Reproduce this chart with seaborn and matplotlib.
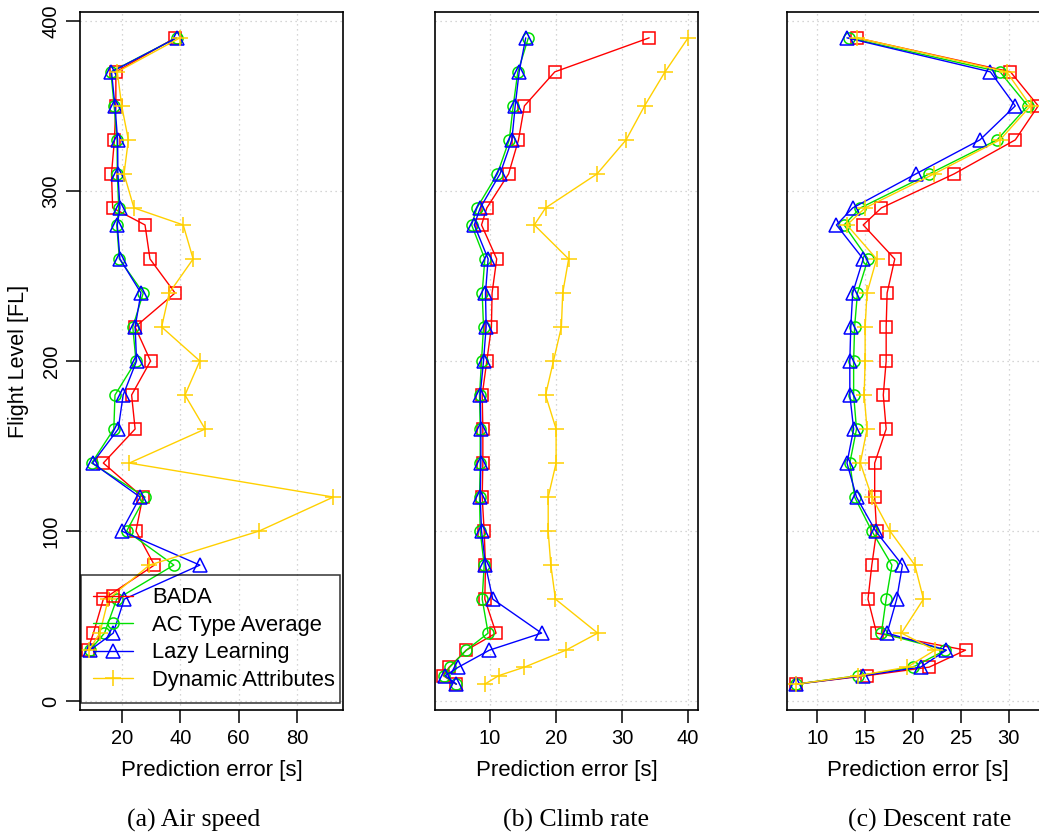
import numpy as np
import pandas as pd
import matplotlib
matplotlib.use("Agg")
import matplotlib.pyplot as plt
import seaborn as sns

# flight levels
levels_a = [390, 370, 350, 330, 310, 290, 280, 260, 240, 220, 200, 180,
            160, 140, 120, 100, 80, 60, 40, 30]
levels_bc = levels_a + [20, 15, 10]

methods = ["BADA", "AC Type Average", "Lazy Learning", "Dynamic Attributes"]

# (a) air speed
air_bada = [38.2, 17.9, 17.9, 17.4, 16.4, 16.8, 27.9, 29.6, 38.2, 24.5, 29.8, 23.3,
            24.5, 13.6, 27.1, 24.8, 31.1, 13.6, 10.2, 8.2]
air_avg = [38.7, 16.2, 17.3, 18.3, 18.4, 18.9, 18.2, 19.1, 27.3, 23.7, 24.8, 17.6,
           17.2, 9.6, 27.9, 21.6, 37.8, 18.2, 14.0, 9.0]
air_lazy = [38.7, 16.4, 17.6, 18.5, 18.6, 19.3, 18.4, 19.3, 26.5, 24.5, 25.0, 20.4,
            18.7, 9.9, 26.2, 19.9, 46.7, 20.8, 17.0, 9.0]
air_dyn = [39.9, 18.4, 19.9, 22.2, 20.7, 24.1, 41.0, 44.4, 36.2, 33.6, 46.7, 41.6,
           48.5, 22.5, 92.5, 67.0, 29.4, 15.3, 12.4, 8.7]

# (b) climb rate
climb_bada = [34.1, 19.8, 15.2, 14.3, 12.8, 9.5, 8.7, 11.0, 10.3, 10.2, 9.5, 8.8,
              8.9, 8.9, 8.8, 9.1, 9.3, 9.2, 10.9, 6.4, 3.8, 2.9, 4.8]
climb_avg = [15.8, 14.2, 13.5, 12.9, 11.1, 8.0, 7.2, 9.2, 8.8, 9.0, 8.7, 8.4,
             8.5, 8.5, 8.4, 8.5, 9.1, 8.8, 9.7, 6.4, 3.9, 3.0, 4.9]
climb_lazy = [15.4, 14.4, 13.8, 13.3, 11.5, 8.5, 7.6, 9.7, 9.3, 9.4, 9.0, 8.5,
              8.6, 8.6, 8.5, 8.7, 9.3, 10.4, 17.8, 9.9, 5.2, 3.2, 4.9]
climb_dyn = [40.0, 36.5, 33.4, 30.6, 26.2, 18.4, 16.7, 21.9, 21.0, 20.8, 19.6, 18.4,
             20.0, 20.0, 18.8, 18.8, 19.2, 19.9, 26.3, 21.5, 15.2, 11.3, 9.2]

# (c) descent rate
desc_bada = [14.1, 30.2, 33.1, 30.7, 24.3, 16.7, 14.8, 18.1, 17.3, 17.2, 17.2, 16.9,
             17.2, 16.0, 16.0, 16.2, 15.7, 15.3, 16.2, 25.5, 21.7, 15.2, 7.8]
desc_avg = [13.3, 29.1, 32.0, 28.8, 21.7, 14.5, 12.8, 15.3, 14.2, 13.9, 13.8, 13.8,
            14.1, 13.4, 13.9, 15.7, 17.8, 17.2, 16.7, 23.4, 20.0, 14.3, 7.8]
desc_lazy = [13.1, 28.1, 30.7, 27.0, 20.3, 13.7, 12.0, 14.8, 13.7, 13.5, 13.4, 13.4,
             13.8, 13.1, 14.1, 16.1, 18.9, 18.3, 17.3, 23.5, 20.8, 14.8, 7.8]
desc_dyn = [14.2, 29.8, 32.3, 29.1, 22.2, 15.0, 13.1, 16.2, 15.2, 15.0, 15.0, 14.9,
            15.2, 14.5, 15.7, 17.6, 20.2, 21.1, 18.8, 22.3, 19.4, 14.3, 7.8]

colors = ["#ff0000", "#00e000", "#0000ff", "#ffd000"]
markers = ["s", "o", "^", "+"]
msizes = [8.5, 8, 9.5, 11]


def long_table(levels, series):
    frames = []
    for name, vals in zip(methods, series):
        frames.append(pd.DataFrame({"level": levels, "error": vals, "method": name}))
    return pd.concat(frames, ignore_index=True)


sns.set_style("white")
plt.rcParams["font.family"] = ["Liberation Sans", "DejaVu Sans"]
plt.rcParams.update({"text.color": "black", "axes.labelcolor": "black",
                     "xtick.color": "black", "ytick.color": "black"})

fig = plt.figure(figsize=(10.39, 8.32), dpi=100)
W, H = 1039, 832


def make_ax(left):
    return fig.add_axes([left / W, 1 - 710 / H, 263 / W, 698 / H])


panels = [
    (make_ax(80), long_table(levels_a, [air_bada, air_avg, air_lazy, air_dyn]),
     (5.6, 95.8), [20, 40, 60, 80], "(a) Air speed", 194),
    (make_ax(435), long_table(levels_bc, [climb_bada, climb_avg, climb_lazy, climb_dyn]),
     (1.65, 41.5), [10, 20, 30, 40], "(b) Climb rate", 576),
    (make_ax(786.7), long_table(levels_bc, [desc_bada, desc_avg, desc_lazy, desc_dyn]),
     (6.8, 34.3), [10, 15, 20, 25, 30], "(c) Descent rate", 930),
]

for i, (ax, df, xlim, xticks, caption, cx) in enumerate(panels):
    for name, col, mk, ms in zip(methods, colors, markers, msizes):
        sns.lineplot(data=df[df["method"] == name], x="error", y="level",
                     ax=ax, color=col, marker=mk, markersize=ms,
                     markerfacecolor="none", markeredgecolor=col,
                     markeredgewidth=1.1, linewidth=1.0, sort=False,
                     orient="y", estimator=None, errorbar=None, label=name,
                     legend=False)
    ax.set_xlim(*xlim)
    ax.set_ylim(-5.2, 405.2)
    ax.set_xticks(xticks)
    ax.set_yticks([0, 100, 200, 300, 400])
    ax.grid(True, color="#c8c8c8", linestyle=(0, (1, 3)), linewidth=0.9)
    ax.set_axisbelow(True)
    for sp in ax.spines.values():
        sp.set_color("black")
        sp.set_linewidth(1.2)
    ax.tick_params(axis="x", direction="out", length=9, width=1.1,
                   labelsize=14.5, pad=5, color="black", bottom=True)
    ax.set_xlabel("Prediction error [s]", fontsize=16, labelpad=8)
    if i == 0:
        ax.tick_params(axis="y", direction="out", length=10, width=1.1,
                       labelsize=14.5, pad=4, left=True)
        for lab in ax.get_yticklabels():
            lab.set_rotation(90)
            lab.set_va("center")
        ax.set_ylabel("Flight Level [FL]", fontsize=15.5, labelpad=9)
        ax.legend(loc="lower left", bbox_to_anchor=(0.004, 0.01, 0.985, 0.21),
                  mode="expand", borderaxespad=0, fancybox=False,
                  edgecolor="black", facecolor="none", framealpha=None,
                  fontsize=15.8, handlelength=1.8, handletextpad=0.9,
                  labelspacing=0.3, borderpad=0.55)
        ax.get_legend().get_frame().set_linewidth(1.1)
    else:
        ax.tick_params(axis="y", left=False, labelleft=False)
        ax.set_ylabel("")
    fig.text(cx / W, 1 - 820 / H, caption, ha="center", va="center",
             fontsize=18.5, family=["Liberation Serif", "DejaVu Serif"])

fig.savefig("out.png", dpi=100)
